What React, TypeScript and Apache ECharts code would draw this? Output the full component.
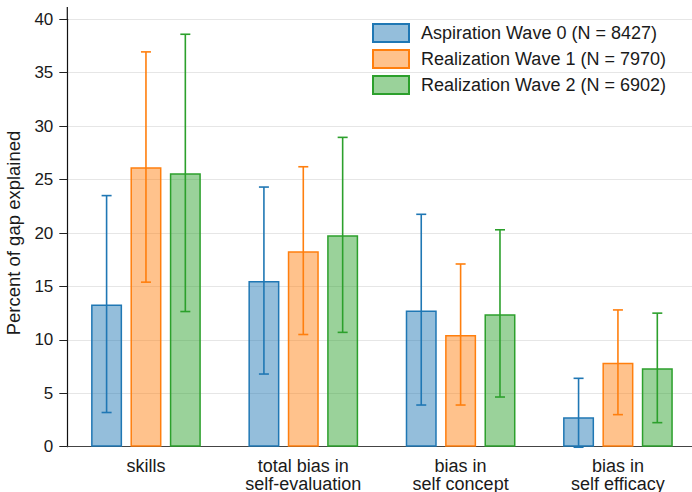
import React, { useEffect, useRef } from 'react';
import * as echarts from 'echarts';

const categories = ['skills', 'total bias in\nself-evaluation', 'bias in\nself concept', 'bias in\nself efficacy'];
const seriesNames = ['Aspiration Wave 0 (N = 8427)', 'Realization Wave 1 (N = 7970)', 'Realization Wave 2 (N = 6902)'];

const wave0 = [13.3, 15.5, 12.75, 2.75];
const wave0Low = [3.2, 6.8, 3.9, -0.05];
const wave0High = [23.5, 24.3, 21.75, 6.4];

const wave1 = [26.15, 18.3, 10.45, 7.85];
const wave1Low = [15.4, 10.5, 3.9, 3.0];
const wave1High = [36.95, 26.2, 17.1, 12.8];

const wave2 = [25.6, 19.8, 12.4, 7.35];
const wave2Low = [12.65, 10.7, 4.65, 2.25];
const wave2High = [38.6, 28.95, 20.3, 12.5];

const yMin = 0;
const yMax = 40;
const yInterval = 5;

const lineColors = ['#1f77b4', '#ff7f0e', '#2ca02c'];
const fillColors = ['rgba(31,119,180,0.48)', 'rgba(255,127,14,0.48)', 'rgba(44,160,44,0.48)'];

const FONT = '"Liberation Sans", Arial, Helvetica, sans-serif';
const BAR_W = 31;
const BAR_GAP = 0.27;

export default function App() {
  const ref = useRef<HTMLDivElement>(null);
  useEffect(() => {
    if (!ref.current) return;
    const chart = echarts.init(ref.current, undefined, { renderer: 'svg' });
    const values = [wave0, wave1, wave2];
    const lows = [wave0Low, wave1Low, wave2Low];
    const highs = [wave0High, wave1High, wave2High];
    const step = BAR_W * (1 + BAR_GAP);

    const barSeries = values.map((vals, i) => ({
      name: seriesNames[i],
      type: 'bar',
      data: vals,
      barWidth: BAR_W,
      barGap: BAR_GAP * 100 + '%',
      itemStyle: { color: fillColors[i], borderColor: lineColors[i], borderWidth: 1.5 },
      z: 2,
    }));

    const errSeries = values.map((vals, i) => ({
      name: 'err' + i,
      type: 'custom',
      data: vals.map((_, k) => [k, lows[i][k], highs[i][k]]),
      encode: { x: 0, y: [1, 2] },
      z: 5,
      silent: true,
      renderItem: (params: any, api: any) => {
        const c = api.value(0);
        const lo = api.coord([c, api.value(1)]);
        const hi = api.coord([c, api.value(2)]);
        const x = lo[0] + (i - 1) * step;
        const capHalf = 5;
        const style = { stroke: lineColors[i], lineWidth: 1.6 };
        return {
          type: 'group',
          children: [
            { type: 'line', shape: { x1: x, y1: lo[1], x2: x, y2: hi[1] }, style },
            { type: 'line', shape: { x1: x - capHalf, y1: lo[1], x2: x + capHalf, y2: lo[1] }, style },
            { type: 'line', shape: { x1: x - capHalf, y1: hi[1], x2: x + capHalf, y2: hi[1] }, style },
          ],
        };
      },
    }));

    chart.setOption({
      animation: false,
      textStyle: { fontFamily: FONT },
      grid: { left: 67.3, top: 19.3, width: 629.3, bottom: 45.3, containLabel: false, outerBoundsMode: 'none' },
      legend: {
        data: seriesNames,
        orient: 'vertical',
        left: 372,
        top: 23,
        padding: 0,
        icon: 'rect',
        itemWidth: 36,
        itemHeight: 18,
        itemGap: 6,
        textStyle: { fontSize: 18, color: '#1a1a1a', fontFamily: FONT, padding: [0, 0, 0, 7] },
      },
      xAxis: {
        type: 'category',
        data: categories,
        axisLine: { lineStyle: { color: '#444', width: 1.2 } },
        axisTick: { show: false },
        axisLabel: { fontSize: 18, color: '#1a1a1a', lineHeight: 18.5, margin: 10, fontFamily: FONT, interval: 0 },
        splitLine: { show: false },
      },
      yAxis: {
        type: 'value',
        min: yMin,
        max: yMax,
        interval: yInterval,
        name: 'Percent of gap explained',
        nameLocation: 'middle',
        nameGap: 35,
        nameTextStyle: { fontSize: 18.5, color: '#1a1a1a', fontFamily: FONT },
        axisLine: { show: true, lineStyle: { color: '#111', width: 1.2 } },
        axisTick: { show: true, length: 8, lineStyle: { color: '#222', width: 1 } },
        axisLabel: { fontSize: 17, color: '#1a1a1a', margin: 14, fontFamily: FONT },
        splitLine: { show: true, lineStyle: { color: '#e6e6e6', width: 1 } },
      },
      graphic: [
        {
          type: 'line',
          shape: { x1: 67.3, y1: 7, x2: 67.3, y2: 19.3 },
          style: { stroke: '#111', lineWidth: 1.2 },
        },
      ],
      series: [...barSeries, ...errSeries],
    });
    return () => chart.dispose();
  }, []);
  return <div ref={ref} style={{ width: 692, height: 492, position: 'absolute', left: 0, top: 0 }} />;
}
